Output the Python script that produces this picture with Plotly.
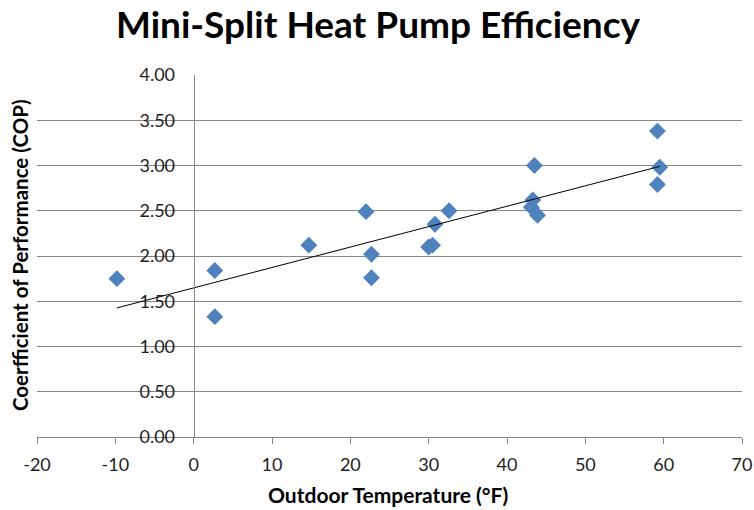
import numpy as np
import plotly.graph_objects as go

title_text = "Mini-Split Heat Pump Efficiency"
x_title = "Outdoor Temperature (°F)"
y_title = "Coerfficient of Performance (COP)"

temps = [-9.8, 2.7, 2.7, 14.7, 22.0, 22.7, 22.7, 30.0, 30.5, 30.8, 32.6,
         43.5, 43.3, 43.1, 43.9, 59.2, 59.5, 59.2]
cop = [1.75, 1.84, 1.33, 2.12, 2.49, 2.02, 1.76, 2.10, 2.12, 2.35, 2.50,
       3.00, 2.62, 2.54, 2.45, 3.38, 2.98, 2.79]

x_ticks = list(range(-20, 71, 10))
y_ticks = [i * 0.5 for i in range(9)]

FONT = "Lato"
TICK_COLOR = "#1e1e1e"

slope, intercept = np.polyfit(temps, cop, 1)
tx = np.array([min(temps), max(temps)])
ty = slope * tx + intercept

fig = go.Figure()
fig.add_trace(go.Scatter(
    x=temps, y=cop, mode="markers",
    marker=dict(symbol="diamond", size=13, color="#4F81BD",
                line=dict(width=0)),
    showlegend=False, hoverinfo="x+y"))
fig.add_trace(go.Scatter(
    x=tx, y=ty, mode="lines",
    line=dict(color="#000000", width=1),
    showlegend=False, hoverinfo="skip"))

fig.update_layout(
    width=754, height=510,
    margin=dict(l=37, r=12, t=75, b=73, autoexpand=False),
    paper_bgcolor="white", plot_bgcolor="white",
    font=dict(family=FONT, color=TICK_COLOR),
    title=dict(text="<b>" + title_text + "</b>", x=(378 - 37) / 705, xanchor="center",
               xref="paper", y=1 - 25 / 510, yref="container", yanchor="middle",
               font=dict(family=FONT, size=37, color="#000000")),
    xaxis=dict(range=[-20, 70], tickvals=x_ticks, ticktext=[str(v) for v in x_ticks],
               showgrid=False, zeroline=False, automargin=False,
               showline=True, linecolor="#868686", linewidth=1,
               ticks="outside", ticklen=6, tickcolor="#868686",
               ticklabelstandoff=5,
               tickfont=dict(family=FONT, size=18, color=TICK_COLOR),
               fixedrange=True),
    yaxis=dict(range=[0, 4], tickvals=y_ticks,
               ticktext=["%.2f" % v for v in y_ticks],
               anchor="free", position=2 / 9, automargin=False,
               showgrid=True, gridcolor="#868686", gridwidth=1,
               zeroline=False, showline=True, linecolor="#868686", linewidth=1,
               ticks="", ticklabelstandoff=15,
               tickfont=dict(family=FONT, size=18, color=TICK_COLOR),
               fixedrange=True),
    annotations=[
        dict(text="<b>" + x_title + "</b>", xref="paper", yref="paper",
             x=(388 - 37) / 705, y=-(494 - 437) / 362, xanchor="center", yanchor="middle",
             showarrow=False, font=dict(family=FONT, size=21, color="#000000")),
        dict(text="<b>" + y_title + "</b>", xref="paper", yref="paper",
             x=(20 - 37) / 705, y=(437 - 255) / 362, xanchor="center", yanchor="middle",
             textangle=-90, showarrow=False,
             font=dict(family=FONT, size=20.5, color="#000000")),
    ],
)

fig.write_html(
    "out.html",
    config={"displayModeBar": False},
    post_script="document.body.style.margin='0';document.body.style.overflow='hidden';",
)
